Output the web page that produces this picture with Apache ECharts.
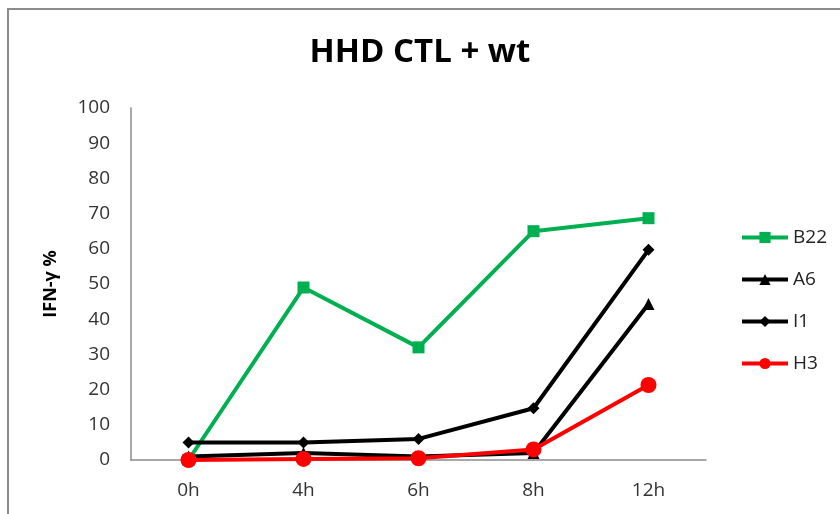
<!DOCTYPE html>
<html>
<head>
<meta charset="utf-8">
<script src="https://cdn.jsdelivr.net/npm/echarts@6/dist/echarts.min.js"></script>
<style>
html,body{margin:0;padding:0;background:#fff;}
#frame{position:absolute;left:7px;top:8px;width:840px;height:520px;border:2px solid #8c8c8c;box-sizing:border-box;}
#c{position:absolute;left:0;top:0;width:840px;height:514px;}
</style>
</head>
<body>
<div id="frame"></div>
<div id="c"></div>
<script>
const categories = ['0h','4h','6h','8h','12h'];
const seriesNames = ['B22','A6','I1','H3'];
const B22 = [0, 49, 32, 65, 68.7];
const A6 = [1, 2, 1, 2, 44.3];
const I1 = [5, 5, 6, 14.7, 59.7];
const H3 = [0, 0.3, 0.5, 3, 21.3];
const yTicks = {min: 0, max: 100, interval: 10};

const font = 'Open Sans, Noto Sans, sans-serif';
const chart = echarts.init(document.getElementById('c'), null, {renderer: 'canvas'});
function mk(name, data, color, symbol, size) {
  return {
    name, type: 'line', data, symbol, symbolSize: size,
    lineStyle: {color, width: 4},
    itemStyle: {color},
    emphasis: {disabled: true},
    animation: false
  };
}
chart.setOption({
  animation: false,
  title: {
    text: 'HHD CTL + wt', left: 'center', top: 31,
    textStyle: {fontFamily: font, fontSize: 33, fontWeight: 'bold', color: '#000'}
  },
  legend: {
    orient: 'vertical', left: 740, top: 228, itemGap: 23, padding: 0,
    itemWidth: 46, itemHeight: 14,
    data: seriesNames,
    lineStyle: {width: 4},
    textStyle: {fontFamily: font, fontSize: 19, color: '#222'}
  },
  grid: {left: 131, right: 134, top: 108, bottom: 54, containLabel: false},
  xAxis: {
    type: 'category', data: categories, boundaryGap: true,
    axisLine: {lineStyle: {color: '#8c8c8c', width: 1.5}},
    axisTick: {show: false},
    axisLabel: {fontFamily: font, fontSize: 19, color: '#333', margin: 21}
  },
  yAxis: {
    type: 'value', min: yTicks.min, max: yTicks.max, interval: yTicks.interval,
    name: 'IFN-γ %', nameLocation: 'middle', nameGap: 71, nameRotate: 90,
    nameTextStyle: {fontFamily: font, fontSize: 18, fontWeight: 'bold', color: '#000'},
    axisLine: {show: true, lineStyle: {color: '#8c8c8c', width: 1.5}},
    axisTick: {show: false},
    splitLine: {show: false},
    axisLabel: {fontFamily: font, fontSize: 19, color: '#333', margin: 21}
  },
  series: [
    mk('B22', B22, '#00b050', 'rect', 12),
    mk('A6', A6, '#000', 'triangle', 12),
    mk('I1', I1, '#000', 'diamond', 12),
    mk('H3', H3, '#ff0000', 'circle', 16)
  ]
});
</script>
</body>
</html>
